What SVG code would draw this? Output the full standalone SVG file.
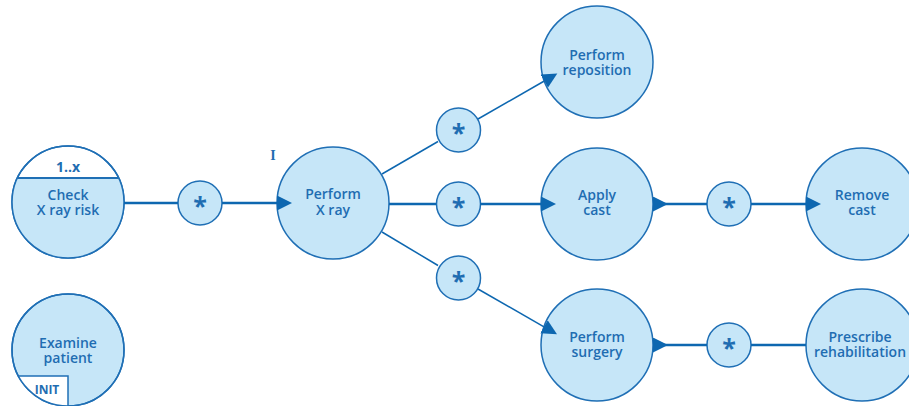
<svg xmlns="http://www.w3.org/2000/svg" width="909" height="406" viewBox="0 0 909 406">
<style>
.node{fill:#c6e6f8;stroke:#1f6fb5;stroke-width:1.5}
.white{fill:#ffffff;stroke:#1f6fb5;stroke-width:1.5}
.lbl{font-family:"Open Sans","Noto Sans",sans-serif;font-weight:600;font-size:14px;fill:#1f6db2;text-anchor:middle}
.star{font-family:"Open Sans","Noto Sans",sans-serif;font-weight:700;font-size:25px;fill:#1f6db2;text-anchor:middle}
.thick{stroke:#0d67b0;stroke-width:2.5;fill:none}
.thin{stroke:#0d67b0;stroke-width:1.5;fill:none}
</style>
<defs>
<marker id="arr" markerUnits="userSpaceOnUse" markerWidth="16" markerHeight="16" refX="0" refY="7.5" orient="auto">
<path d="M0,0 L15,7.5 L0,15 z" fill="#0d67b0"/>
</marker>
<clipPath id="clipCheck"><circle cx="68" cy="202" r="56"/></clipPath>
<clipPath id="clipExam"><circle cx="68" cy="350" r="56"/></clipPath>
</defs>
<g id="check-xray-risk">
<circle class="white" cx="68" cy="202" r="56"/>
<rect x="0" y="178" width="140" height="90" fill="#c6e6f8" clip-path="url(#clipCheck)"/>
<line x1="17.4" y1="178" x2="118.6" y2="178" stroke="#1f6fb5" stroke-width="2"/>
<circle cx="68" cy="202" r="56" fill="none" stroke="#1f6fb5" stroke-width="1.5"/>
<text class="lbl" x="68" y="172" style="font-weight:700">1..x</text>
<text class="lbl" x="68" y="200">Check</text>
<text class="lbl" x="68" y="215">X ray risk</text>
</g>
<g id="examine-patient">
<circle class="node" cx="68" cy="350" r="56"/>
<rect class="white" x="0" y="376" width="68" height="40" clip-path="url(#clipExam)"/>
<circle cx="68" cy="350" r="56" fill="none" stroke="#1f6fb5" stroke-width="1.5"/>
<text class="lbl" x="68" y="348">Examine</text>
<text class="lbl" x="68" y="363">patient</text>
<text class="lbl" x="47" y="394" style="font-size:12px;font-weight:700">INIT</text>
</g>
<g id="star1"><circle class="node" cx="200" cy="203" r="22"/><text class="star" x="200" y="215">*</text></g>
<g id="perform-xray">
<circle class="node" cx="333" cy="203" r="56"/>
<text class="lbl" x="333" y="199">Perform</text>
<text class="lbl" x="333" y="215">X ray</text>
<text x="273" y="160" style="font-family:'Liberation Serif',serif;font-weight:700;font-size:14px;fill:#1f6db2;text-anchor:middle">I</text>
</g>
<g id="star-up"><circle class="node" cx="458.5" cy="130" r="22"/><text class="star" x="458.5" y="142">*</text></g>
<g id="star-mid"><circle class="node" cx="458.5" cy="204" r="22"/><text class="star" x="458.5" y="216">*</text></g>
<g id="star-low"><circle class="node" cx="458.5" cy="278" r="22"/><text class="star" x="458.5" y="290">*</text></g>
<g id="perform-reposition">
<circle class="node" cx="597" cy="62" r="56"/>
<text class="lbl" x="597" y="60">Perform</text>
<text class="lbl" x="597" y="75">reposition</text>
</g>
<g id="apply-cast">
<circle class="node" cx="597" cy="204" r="56"/>
<text class="lbl" x="597" y="200">Apply</text>
<text class="lbl" x="597" y="215">cast</text>
</g>
<g id="perform-surgery">
<circle class="node" cx="597" cy="345" r="56"/>
<text class="lbl" x="597" y="342">Perform</text>
<text class="lbl" x="597" y="357">surgery</text>
</g>
<g id="star-cast"><circle class="node" cx="729" cy="204" r="22"/><text class="star" x="729" y="216">*</text></g>
<g id="star-surg"><circle class="node" cx="729" cy="345" r="22"/><text class="star" x="729" y="357">*</text></g>
<g id="remove-cast">
<circle class="node" cx="862" cy="204" r="56"/>
<text class="lbl" x="862" y="200">Remove</text>
<text class="lbl" x="862" y="215">cast</text>
</g>
<g id="prescribe-rehabilitation">
<circle class="node" cx="862" cy="345" r="56"/>
<text class="lbl" x="860" y="342">Prescribe</text>
<text class="lbl" x="860" y="357">rehabilitation</text>
</g>
<g id="connectors">
<line class="thick" x1="124" y1="203" x2="178" y2="203"/>
<line class="thick" x1="222" y1="203" x2="277" y2="203" marker-end="url(#arr)"/>
<line class="thin" x1="382" y1="174" x2="438" y2="141.5"/>
<line class="thin" x1="478" y1="119" x2="544.3" y2="81" marker-end="url(#arr)"/>
<line class="thick" x1="389" y1="204" x2="436" y2="204"/>
<line class="thick" x1="480" y1="204" x2="541" y2="204" marker-end="url(#arr)"/>
<line class="thin" x1="382" y1="232" x2="438" y2="265.5"/>
<line class="thin" x1="478" y1="289" x2="544" y2="326.8" marker-end="url(#arr)"/>
<line class="thick" x1="653" y1="204" x2="707" y2="204" marker-start="url(#arr)"/>
<line class="thick" x1="751" y1="204" x2="806" y2="204" marker-end="url(#arr)"/>
<line class="thick" x1="653" y1="345" x2="707" y2="345" marker-start="url(#arr)"/>
<line class="thick" x1="751" y1="345" x2="806" y2="345"/>
</g>
</svg>
